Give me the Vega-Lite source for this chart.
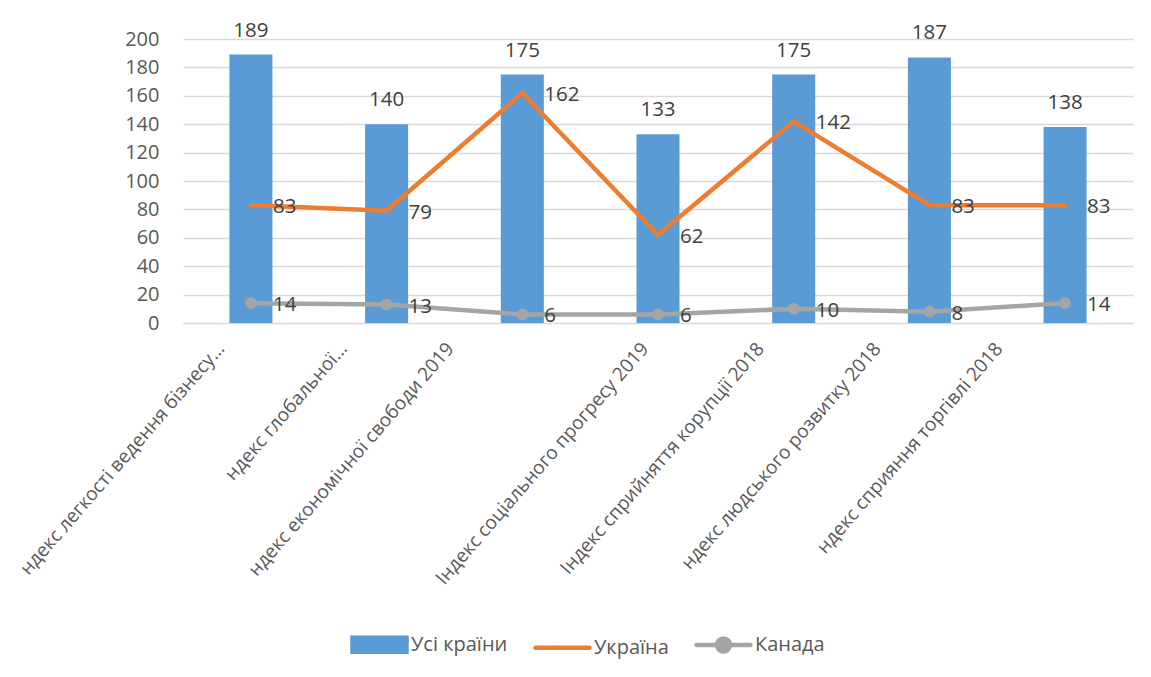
{
  "$schema": "https://vega.github.io/schema/vega-lite/v6.json",
  "autosize": "none",
  "width": 950,
  "height": 284,
  "padding": {"left": 183, "top": 39, "right": 18, "bottom": 354},
  "background": "white",
  "config": {
    "font": "Open Sans",
    "view": {"stroke": null},
    "axis": {"labelColor": "#595959", "labelFont": "Open Sans", "ticks": false, "title": null},
    "legend": {"labelFont": "Open Sans"}
  },
  "data": {
    "values": [
      {"cat": "ндекс легкості ведення бізнесу…", "series": "Усі країни", "value": 189},
      {"cat": "ндекс глобальної…", "series": "Усі країни", "value": 140},
      {"cat": "ндекс економічної свободи 2019", "series": "Усі країни", "value": 175},
      {"cat": "Індекс соціального прогресу 2019", "series": "Усі країни", "value": 133},
      {"cat": "Індекс сприйняття корупції 2018", "series": "Усі країни", "value": 175},
      {"cat": "ндекс людського розвитку 2018", "series": "Усі країни", "value": 187},
      {"cat": "ндекс сприяння торгівлі 2018", "series": "Усі країни", "value": 138},
      {"cat": "ндекс легкості ведення бізнесу…", "series": "Україна", "value": 83},
      {"cat": "ндекс глобальної…", "series": "Україна", "value": 79},
      {"cat": "ндекс економічної свободи 2019", "series": "Україна", "value": 162},
      {"cat": "Індекс соціального прогресу 2019", "series": "Україна", "value": 62},
      {"cat": "Індекс сприйняття корупції 2018", "series": "Україна", "value": 142},
      {"cat": "ндекс людського розвитку 2018", "series": "Україна", "value": 83},
      {"cat": "ндекс сприяння торгівлі 2018", "series": "Україна", "value": 83},
      {"cat": "ндекс легкості ведення бізнесу…", "series": "Канада", "value": 14},
      {"cat": "ндекс глобальної…", "series": "Канада", "value": 13},
      {"cat": "ндекс економічної свободи 2019", "series": "Канада", "value": 6},
      {"cat": "Індекс соціального прогресу 2019", "series": "Канада", "value": 6},
      {"cat": "Індекс сприйняття корупції 2018", "series": "Канада", "value": 10},
      {"cat": "ндекс людського розвитку 2018", "series": "Канада", "value": 8},
      {"cat": "ндекс сприяння торгівлі 2018", "series": "Канада", "value": 14}
    ]
  },
  "encoding": {
    "x": {
      "field": "cat",
      "type": "nominal",
      "sort": null,
      "scale": {"paddingInner": 0.683, "paddingOuter": 0.342},
      "axis": {
        "labelAngle": -49,
        "labelFontSize": 19,
        "labelPadding": 22,
        "labelLimit": 400,
        "labelOffset": {"expr": "datum.value === 'ндекс легкості ведення бізнесу…' ? -30 : datum.value === 'ндекс глобальної…' ? -43 : datum.value === 'ндекс економічної свободи 2019' ? -72 : datum.value === 'Індекс соціального прогресу 2019' ? -13 : datum.value === 'Індекс сприйняття корупції 2018' ? -33 : datum.value === 'ндекс людського розвитку 2018' ? -52 : -66"},
        "domain": true,
        "domainColor": "#D9D9D9",
        "grid": false
      }
    },
    "y": {
      "field": "value",
      "type": "quantitative",
      "scale": {"domain": [0, 200]},
      "axis": {
        "values": [0, 20, 40, 60, 80, 100, 120, 140, 160, 180, 200],
        "labelFontSize": 20,
        "labelPadding": 24,
        "domain": false,
        "gridColor": "#D9D9D9",
        "gridWidth": 1.3
      }
    },
    "color": {
      "field": "series",
      "type": "nominal",
      "scale": {"domain": ["Усі країни", "Україна", "Канада"], "range": ["#5B9BD5", "#ED7D31", "#A5A5A5"]},
      "legend": {
        "title": null,
        "orient": "none",
        "direction": "horizontal",
        "legendX": 167,
        "legendY": 576,
        "symbolSize": 2916,
        "labelFontSize": 20,
        "labelColor": "#595959",
        "labelOffset": 2,
        "columnPadding": 18,
        "encode": {
          "symbols": {
            "update": {
              "shape": {"signal": "datum.value === 'Усі країни' ? 'M-1,-0.26L1,-0.26L1,0.26L-1,0.26Z' : (datum.value === 'Україна' ? 'M-1,0L1,0' : 'M-1,0L1,0M0.24,0A0.24,0.24,0,1,1,-0.24,0A0.24,0.24,0,1,1,0.24,0Z')"},
              "fill": {"signal": "datum.value === 'Усі країни' ? '#5B9BD5' : (datum.value === 'Україна' ? 'transparent' : '#A5A5A5')"},
              "stroke": {"signal": "datum.value === 'Усі країни' ? 'transparent' : (datum.value === 'Україна' ? '#ED7D31' : '#A5A5A5')"},
              "strokeWidth": {"value": 4.5},
              "strokeCap": {"value": "round"},
              "opacity": {"value": 1}
            }
          }
        }
      }
    }
  },
  "layer": [
    {
      "transform": [{"filter": "datum.series === 'Усі країни'"}],
      "mark": {"type": "bar"}
    },
    {
      "transform": [{"filter": "datum.series === 'Усі країни'"}],
      "mark": {"type": "text", "baseline": "bottom", "dy": -14, "fontSize": 20.5, "color": "#404040"},
      "encoding": {"text": {"field": "value", "type": "quantitative"}, "color": {"value": "#404040"}}
    },
    {
      "transform": [{"filter": "datum.series !== 'Усі країни'"}],
      "mark": {"type": "line", "strokeWidth": 4.5, "strokeCap": "round", "strokeJoin": "round"},
      "encoding": {"detail": {"field": "series"}}
    },
    {
      "transform": [{"filter": "datum.series === 'Канада'"}],
      "mark": {"type": "point", "filled": true, "size": 140, "opacity": 1}
    },
    {
      "transform": [{"filter": "datum.series !== 'Усі країни'"}],
      "mark": {"type": "text", "align": "left", "baseline": "middle", "dx": 22, "dy": 2, "fontSize": 20.5},
      "encoding": {"text": {"field": "value", "type": "quantitative"}, "color": {"value": "#404040"}}
    }
  ]
}
